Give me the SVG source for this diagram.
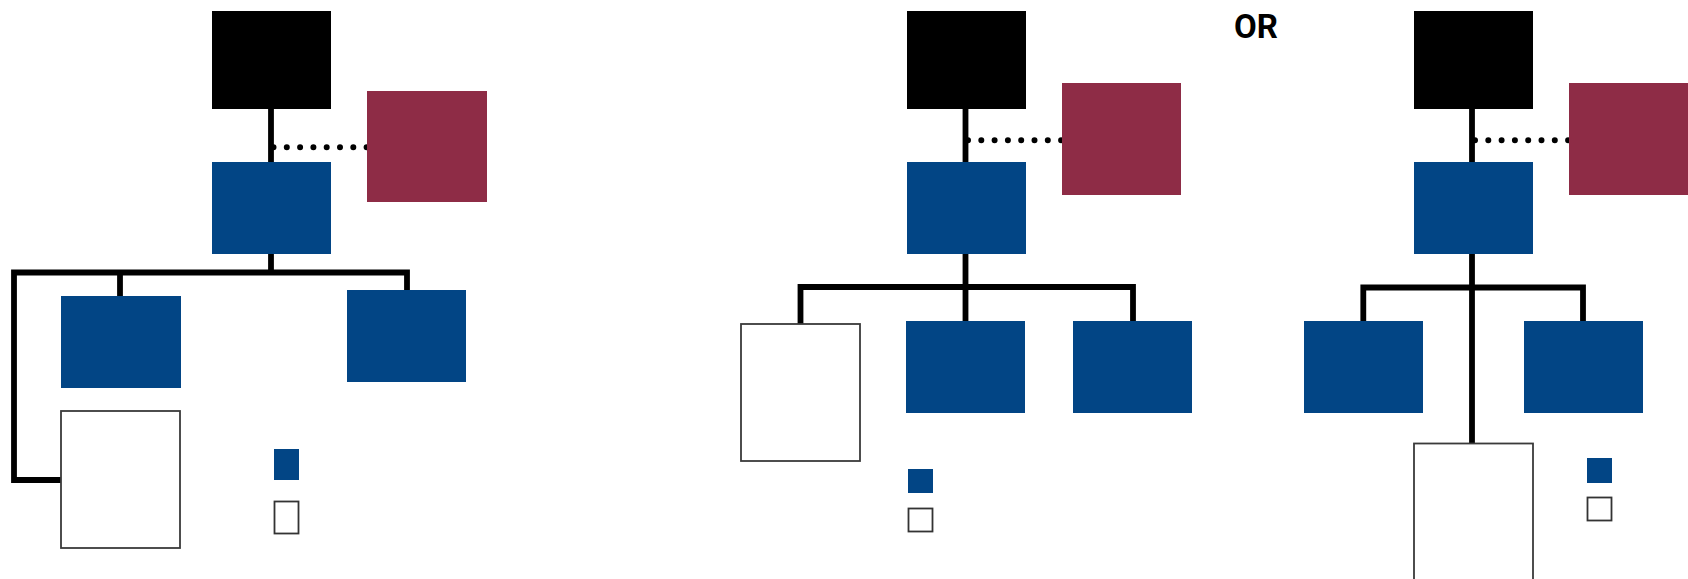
<svg xmlns="http://www.w3.org/2000/svg" width="1688" height="579" viewBox="0 0 1688 579">
<style>
.blk{fill:#000}
.red{fill:#8e2c46}
.blu{fill:#024585}
.wht{fill:#fff;stroke:#3a3a3a;stroke-width:1.8}
.lgw{fill:#fff;stroke:#333;stroke-width:1.8}
.ln{fill:none;stroke:#000;stroke-width:5.8;stroke-linejoin:miter;stroke-linecap:butt}
.dot{fill:none;stroke:#000;stroke-width:6;stroke-linecap:round;stroke-dasharray:0 13.3}
.or{font-family:Roboto,"Liberation Sans",sans-serif;font-weight:bold;font-size:33px;fill:#000}
</style>
<rect width="1688" height="579" fill="#fff"/>
<g id="connectors">
<path class="ln" d="M271 108 V272.5"/>
<path class="ln" d="M61 480 H14 V272.5 H407 V290"/>
<path class="ln" d="M120 272.5 V296"/>
<path class="dot" d="M273.5 147.3 H372"/>
<path class="ln" d="M965.5 108 V321"/>
<path class="ln" d="M800.5 324 V287 H1133 V321"/>
<path class="dot" d="M968 140.3 H1066"/>
<path class="ln" d="M1472 108 V443.5"/>
<path class="ln" d="M1363.3 321 V287.5 H1583 V321"/>
<path class="dot" d="M1475 140.3 H1573"/>
</g>
<g id="a-top"><rect class="blk" x="212" y="11" width="119" height="98"/></g>
<g id="a-red"><rect class="red" x="367" y="91" width="120" height="111"/></g>
<g id="a-mid"><rect class="blu" x="212" y="162" width="119" height="92"/></g>
<g id="a-c1"><rect class="blu" x="61" y="296" width="120" height="92"/></g>
<g id="a-c2"><rect class="blu" x="347" y="290" width="119" height="92"/></g>
<g id="a-white"><rect class="wht" x="61" y="411" width="119" height="137"/></g>
<g id="a-leg1"><rect class="blu" x="274" y="449" width="25" height="31"/></g>
<g id="a-leg2"><rect class="lgw" x="274.5" y="501.5" width="24" height="32"/></g>
<g id="b-top"><rect class="blk" x="907" y="11" width="119" height="98"/></g>
<g id="b-red"><rect class="red" x="1062" y="83" width="119" height="112"/></g>
<g id="b-mid"><rect class="blu" x="907" y="162" width="119" height="92"/></g>
<g id="b-white"><rect class="wht" x="741" y="324" width="119" height="137"/></g>
<g id="b-c1"><rect class="blu" x="906" y="321" width="119" height="92"/></g>
<g id="b-c2"><rect class="blu" x="1073" y="321" width="119" height="92"/></g>
<g id="b-leg1"><rect class="blu" x="908" y="469" width="25" height="24"/></g>
<g id="b-leg2"><rect class="lgw" x="908.5" y="508.5" width="24" height="23"/></g>
<g id="or"><text class="or" x="1234" y="37.7">OR</text></g>
<g id="c-top"><rect class="blk" x="1414" y="11" width="119" height="98"/></g>
<g id="c-red"><rect class="red" x="1569" y="83" width="120" height="112"/></g>
<g id="c-mid"><rect class="blu" x="1414" y="162" width="119" height="92"/></g>
<g id="c-c1"><rect class="blu" x="1304" y="321" width="119" height="92"/></g>
<g id="c-c2"><rect class="blu" x="1524" y="321" width="119" height="92"/></g>
<g id="c-white"><rect class="wht" x="1414" y="443.5" width="119" height="140"/></g>
<g id="c-leg1"><rect class="blu" x="1587" y="458" width="25" height="25"/></g>
<g id="c-leg2"><rect class="lgw" x="1587.5" y="497.5" width="24" height="23"/></g>
</svg>
